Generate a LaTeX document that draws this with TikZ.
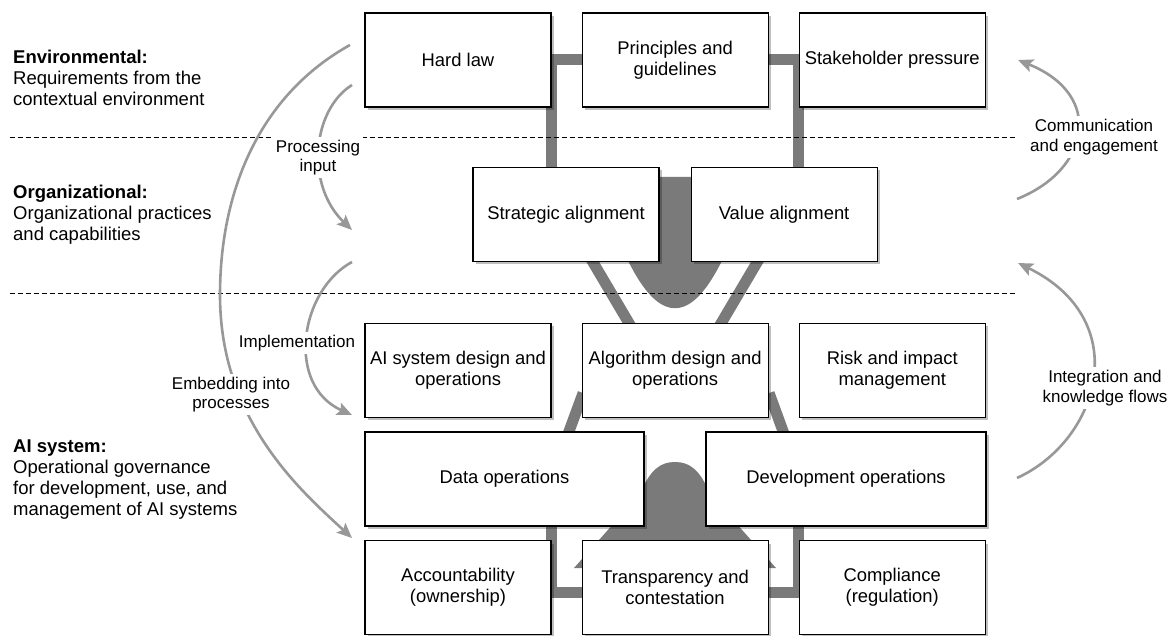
\documentclass[tikz,border=0pt]{standalone}
\usepackage{fontspec}
\setmainfont{Liberation Sans}
\usetikzlibrary{arrows.meta, positioning, shadows, backgrounds}

\definecolor{bargray}{HTML}{7A7A7A}
\definecolor{flowgray}{HTML}{989898}

\begin{document}
\begin{tikzpicture}[
        x=1pt, y=1pt,
        govbox/.style={
            rectangle,
            draw=black,
            line width=1.1pt,
            fill=white,
            minimum width=186pt,
            minimum height=94pt,
            align=center,
            inner sep=2pt,
            font=\fontsize{18.4}{21}\selectfont,
            drop shadow={fill=black, opacity=0.25, shadow xshift=3pt, shadow yshift=-3pt}
        },
        bar/.style={
            line width=11pt,
            draw=bargray
        },
        flow/.style={
            -{Stealth[length=15pt, width=13pt, inset=3pt]},
            line width=2.6pt,
            draw=flowgray
        },
        flowlabel/.style={
            fill=white,
            align=center,
            inner sep=3pt,
            font=\fontsize{17}{19.5}\selectfont
        },
        layertext/.style={
            anchor=west,
            align=left,
            inner sep=0pt,
            font=\fontsize{18.5}{21}\selectfont
        },
        divider/.style={
            line width=0.9pt,
            dash pattern=on 4.5pt off 3.5pt
        }
    ]
    \useasboundingbox (0,0) rectangle (1173,635);

    % Environmental layer
    \node[govbox] (hardlaw) at (458,575) {Hard law};
    \node[govbox, right=30pt of hardlaw] (principles) {Principles and\\guidelines};
    \node[govbox, right=30pt of principles] (stakeholder) {Stakeholder pressure};

    % Organizational layer
    \node[govbox] (strategic) at (566,420.5) {Strategic alignment};
    \node[govbox, right=31pt of strategic] (value) {Value alignment};

    % AI system layer
    \node[govbox] (aisys) at (458,264.5) {AI system design and\\operations};
    \node[govbox, right=30pt of aisys] (algo) {Algorithm design and\\operations};
    \node[govbox, right=30pt of algo] (risk) {Risk and impact\\management};
    \node[govbox, minimum width=279pt] (dataops) at (504.5,156) {Data operations};
    \node[govbox, minimum width=280pt] (devops) at (846,156) {Development operations};
    \node[govbox] (account) at (458,47.5) {Accountability\\(ownership)};
    \node[govbox, right=30pt of account] (transp) {Transparency and\\contestation};
    \node[govbox, right=30pt of transp] (compl) {Compliance\\(regulation)};

    % Gray framework behind the boxes
    \begin{pgfonlayer}{background}
        \draw[bar] (strategic.center -| hardlaw.east) -- (hardlaw.east) -- (stakeholder.west) -- (value.center -| stakeholder.west);
        \draw[bar] ([shift={(15,20)}]strategic.south) -- ([yshift=17pt]algo.south) -- ([shift={(-15,20)}]value.south);
        \draw[bar] ([shift={(-92,25)}]algo.south) -- ([shift={(-87,-31)}]dataops.north east);
        \draw[bar] ([shift={(94,25)}]algo.south) -- ([shift={(89,-31)}]devops.north west);
        \draw[bar] (dataops.center -| account.east) -- ([yshift=-5pt]account.east) -- ([yshift=-5pt]compl.west) -- (devops.center -| compl.west);
        \fill[bargray] (597,458) .. controls (649,283) and (701,283) .. (753,458) -- cycle;
        \fill[bargray] (574,67) -- (640,141) .. controls (650,165) and (660,173) .. (675,173)
            .. controls (690,173) and (700,165) .. (710,141) -- (776,67) -- cycle;
    \end{pgfonlayer}

    % Layer descriptions
    \node[layertext] (envtext) at (13,557.5) {\textbf{Environmental:}\\Requirements from the\\contextual environment};
    \node[layertext] (orgtext) at (13,420.5) {\textbf{Organizational:}\\Organizational practices\\and capabilities};
    \node[layertext] (aitext) at (13,155) {\textbf{AI system:}\\Operational governance\\for development, use, and\\management of AI systems};

    % Layer borders
    \coordinate (envorg-l) at (10,498);
    \coordinate (envorg-r) at (1017,498);
    \coordinate (orgai-l) at (10,342);
    \coordinate (orgai-r) at (1017,342);
    \draw[divider] (envorg-l) -- (envorg-r);
    \draw[divider] (orgai-l) -- (orgai-r);

    % Flows on the left
    \coordinate (proc-s) at (352,550);
    \coordinate (proc-e) at (352,405);
    \coordinate (impl-s) at (352,373);
    \coordinate (impl-e) at (352,220);
    \coordinate (embed-s) at (350,590);
    \coordinate (embed-e) at (352,97);
    \draw[flow] (proc-s) .. controls (312,525) and (305,450) .. (proc-e);
    \draw[flow] (impl-s) .. controls (300,345) and (285,250) .. (impl-e);
    \draw[flow] (embed-s) .. controls (260,540) and (220,445) .. (220,340)
        .. controls (220,215) and (300,145) .. (embed-e);

    % Flows on the right
    \coordinate (comm-s) at (1017,436);
    \coordinate (comm-e) at (1018,575);
    \coordinate (integ-s) at (1017,157);
    \coordinate (integ-e) at (1018,372);
    \draw[flow] (comm-s) .. controls (1090,465) and (1105,540) .. (comm-e);
    \draw[flow] (integ-s) .. controls (1100,195) and (1135,315) .. (integ-e);

    % Flow labels
    \node[flowlabel] (proclabel) at (318,477.5) {Processing\\input};
    \node[flowlabel] (impllabel) at (297,292) {Implementation};
    \node[flowlabel] (embedlabel) at (231,240.5) {Embedding into\\processes};
    \node[flowlabel] (commlabel) at (1094,498) {Communication\\and engagement};
    \node[flowlabel] (integlabel) at (1105,247) {Integration and\\knowledge flows};

\end{tikzpicture}
\end{document}
